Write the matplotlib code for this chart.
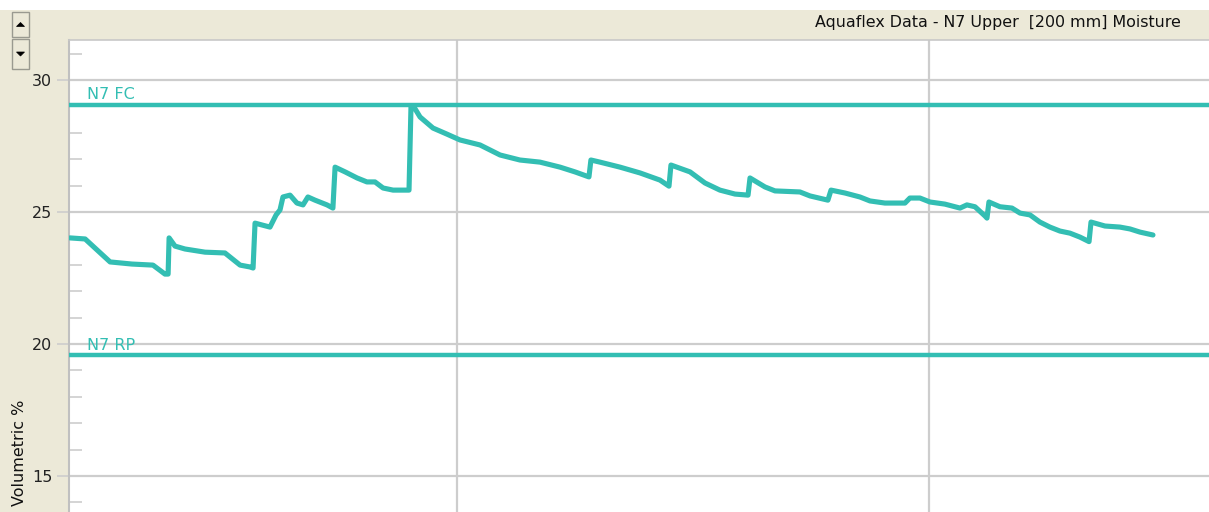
import matplotlib
matplotlib.use("Agg")
import matplotlib.pyplot as plt
from matplotlib.patches import Rectangle, Polygon
from matplotlib.ticker import MultipleLocator

# ---- data (time in hours, moisture in volumetric %) ----
hours = [4.32, 5.09, 6.36, 7.47, 8.54, 9.15, 9.31, 9.36, 9.66, 10.17, 11.19, 12.20,
         12.97, 13.47, 13.63, 13.73, 14.08, 14.49, 14.80, 15.00, 15.15, 15.51, 15.86,
         16.17, 16.42, 16.78, 17.39, 17.69, 17.80, 18.31, 18.92, 19.42, 19.83, 20.24,
         20.75, 21.56, 21.66, 21.81, 22.12, 22.78, 23.49, 24.15, 25.17, 26.19, 27.20,
         28.22, 29.24, 30.00, 30.71, 30.81, 31.27, 32.29, 33.31, 34.32, 34.78, 34.88,
         35.85, 36.61, 37.37, 38.14, 38.80, 38.90, 39.66, 40.17, 41.44, 41.95, 42.86,
         43.02, 43.73, 44.49, 45.00, 45.76, 46.78, 47.03, 47.54, 48.05, 48.81, 49.58,
         49.93, 50.34, 50.85, 50.95, 51.05, 51.61, 52.22, 52.63, 53.14, 53.64, 54.15,
         54.66, 55.17, 55.68, 56.14, 56.24, 56.95, 57.71, 58.22, 58.73, 59.39]
moisture = [24.02, 23.98, 23.11, 23.03, 22.99, 22.65, 22.65, 24.02, 23.71, 23.60, 23.48, 23.45,
            22.99, 22.92, 22.88, 24.58, 24.51, 24.43, 24.89, 25.08, 25.57, 25.64, 25.34,
            25.27, 25.57, 25.45, 25.27, 25.15, 26.70, 26.52, 26.29, 26.14, 26.14, 25.91,
            25.83, 25.83, 28.98, 28.98, 28.60, 28.18, 27.95, 27.73, 27.54, 27.16, 26.97,
            26.89, 26.70, 26.52, 26.33, 26.97, 26.89, 26.70, 26.48, 26.21, 25.98, 26.78,
            26.52, 26.10, 25.83, 25.68, 25.64, 26.29, 25.95, 25.80, 25.76, 25.61, 25.45,
            25.83, 25.72, 25.57, 25.42, 25.34, 25.34, 25.53, 25.53, 25.38, 25.30, 25.15,
            25.27, 25.20, 24.85, 24.77, 25.38, 25.20, 25.15, 24.96, 24.89, 24.62, 24.43,
            24.28, 24.20, 24.05, 23.88, 24.62, 24.47, 24.43, 24.36, 24.24, 24.13]

field_capacity = 29.05
refill_point = 19.58
fc_label = "N7 FC"
rp_label = "N7 RP"
title = "Aquaflex Data - N7 Upper  [200 mm] Moisture"
ylabel = "Volumetric %"
ytick_values = [15, 20, 25, 30]
xgrid_values = [24, 48]

# ---- style ----
W, H = 1209, 512
BEIGE = "#ECE9D8"
TEAL = "#33BEB3"
GRID = "#CDCDCD"

fig = plt.figure(figsize=(W / 100, H / 100), dpi=100, facecolor=BEIGE)

def fx(px):
    return px / W

def fy(py):
    return 1 - py / H

# white strip at top
fig.patches.append(Rectangle((0, fy(10)), 1, 10 / H, transform=fig.transFigure,
                             facecolor="white", edgecolor="none", zorder=0))

ax = fig.add_axes([fx(69), 0, 1 - fx(69), fy(40)])
ax.set_facecolor("white")
ax.set_xlim(4.27, 62.24)
ax.set_ylim(13.64, 31.515)

for v in ytick_values:
    ax.axhline(v, color=GRID, lw=1.6, zorder=1)
for v in xgrid_values:
    ax.axvline(v, color=GRID, lw=1.6, zorder=1)

ax.axhline(field_capacity, color=TEAL, lw=3.2, zorder=3)
ax.axhline(refill_point, color=TEAL, lw=3.2, zorder=3)
ax.plot(hours, moisture, color=TEAL, lw=3.7, solid_joinstyle="round",
        solid_capstyle="round", zorder=4)

ax.text(5.2, field_capacity + 0.10, fc_label, color=TEAL, fontsize=11.5,
        va="bottom", ha="left")
ax.text(5.2, refill_point + 0.10, rp_label, color=TEAL, fontsize=11.5,
        va="bottom", ha="left")

ax.set_yticks(ytick_values)
ax.yaxis.set_minor_locator(MultipleLocator(1))
ax.tick_params(axis="y", which="major", direction="out", length=9, width=1.2,
               color=GRID, labelsize=11.5, labelcolor="#222222", pad=3)
ax.tick_params(axis="y", which="minor", direction="in", length=9, width=1.2,
               color=GRID)
ax.set_xticks([])
for s in ["right", "bottom"]:
    ax.spines[s].set_visible(False)
ax.spines["left"].set_color("#C0C0C0")
ax.spines["left"].set_linewidth(1.5)
ax.spines["top"].set_color("#C8C8C8")
ax.spines["top"].set_linewidth(1.2)

fig.text(fx(1181), fy(22), title, ha="right", va="center", fontsize=11.4,
         color="#111111")
fig.text(fx(20), fy(453), ylabel, ha="center", va="center", rotation=90,
         fontsize=11.5, color="#111111")

# scroll buttons
for (y0, y1, up) in [(12, 37, True), (39, 69, False)]:
    fig.patches.append(Rectangle((fx(12), fy(y1)), 17 / W, (y1 - y0) / H,
                                 transform=fig.transFigure, facecolor="#ECE9D8",
                                 edgecolor="#9A9A90", lw=1.0, zorder=2))
    cx = 20.5
    cy = (y0 + y1) / 2
    if up:
        pts = [(cx - 4, cy + 2), (cx + 4, cy + 2), (cx, cy - 2)]
    else:
        pts = [(cx - 4, cy - 2), (cx + 4, cy - 2), (cx, cy + 2)]
    fig.patches.append(Polygon([(fx(a), fy(b)) for a, b in pts], closed=True,
                               transform=fig.transFigure, facecolor="black",
                               edgecolor="black", lw=0.5, zorder=3))

fig.savefig("out.png", dpi=100, facecolor=BEIGE)
